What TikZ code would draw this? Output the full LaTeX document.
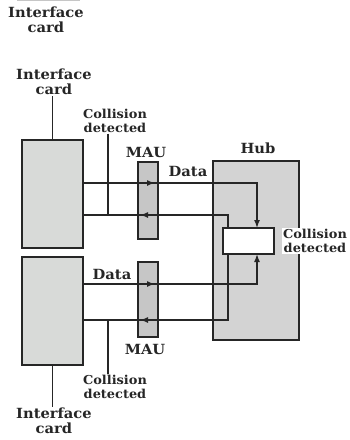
\documentclass[tikz,border=0pt]{standalone}
\usepackage{fontspec}
\setmainfont{DejaVu Serif}[FakeStretch=1.05]
\usetikzlibrary{arrows.meta}
\definecolor{ink}{HTML}{262626}
\definecolor{cardgray}{HTML}{D8DAD8}
\definecolor{maugray}{HTML}{C6C6C6}
\definecolor{hubgray}{HTML}{D3D3D3}
\tikzset{
  box/.style={draw=ink, line width=1.6pt, inner sep=0pt, outer sep=0pt, anchor=north west},
  big/.style={align=center, text=ink, inner sep=1pt, font=\bfseries\fontsize{14}{15.5}\selectfont},
  small/.style={align=center, text=ink, inner sep=1pt, font=\bfseries\fontsize{12.3}{13.5}\selectfont},
  wire/.style={draw=ink, line width=1.5pt},
  tip/.style={-{Latex[length=8pt,width=6pt]}},
}
\begin{document}
\begin{tikzpicture}[x=1pt,y=-1pt]
\useasboundingbox (0,0) rectangle (350,440);
% faint remnant at the top
\draw[gray!45, line width=0.7pt] (17,0.8) -- (80,0.8);
% boxes
\node[box, fill=cardgray, minimum width=61pt, minimum height=108pt] (card1) at (22,140) {};
\node[box, fill=cardgray, minimum width=61pt, minimum height=108pt] (card2) at (22,257) {};
\node[box, fill=maugray, minimum width=20pt, minimum height=77pt] (mau1) at (138,162) {};
\node[box, fill=maugray, minimum width=20pt, minimum height=75pt] (mau2) at (138,262) {};
\node[box, fill=hubgray, minimum width=86pt, minimum height=179pt] (hub) at (213,161) {};
\node[box, fill=white, minimum width=51pt, minimum height=26pt] (cbox) at (223,228) {};
% helper coordinates
\coordinate (xa) at (257,0);
\coordinate (xb) at (228,0);
\coordinate (xc) at (108,0);
\coordinate (ya) at (0,183);
\coordinate (yb) at (0,215);
\coordinate (yc) at (0,284);
\coordinate (yd) at (0,320);
% data lines
\draw[wire, tip] (card1.east |- ya) -| (cbox.north -| xa);
\draw[wire, tip] (card2.east |- yc) -| (cbox.south -| xa);
% collision lines
\draw[wire] (card1.east |- yb) -| (cbox.north -| xb);
\draw[wire] (cbox.south -| xb) |- (card2.east |- yd);
% arrows in MAUs
\draw[wire, tip, shorten >=3pt] (mau1.west |- ya) -- (mau1.east |- ya);
\draw[wire, tip, shorten >=2pt] (mau1.east |- yb) -- (mau1.west |- yb);
\draw[wire, tip, shorten >=3pt] (mau2.west |- yc) -- (mau2.east |- yc);
\draw[wire, tip, shorten >=2pt] (mau2.east |- yd) -- (mau2.west |- yd);
% labels
\node[big] (ic0) at (46,20) {Interface\\card};
\node[big] (ic1) at (54,82) {Interface\\card};
\node[big] (ic2) at (54,421) {Interface\\card};
\node[small] (col1) at (115,121) {Collision\\detected};
\node[small] (col2) at (115,387) {Collision\\detected};
\node[small, fill=white, inner sep=1pt] (col3) at (315,241) {Collision\\detected};
\node[big] (maul1) at (146,152) {MAU};
\node[big] (maul2) at (145,349) {MAU};
\node[big] (data1) at (188,171) {Data};
\node[big] (data2) at (112,274) {Data};
\node[big] (hubl) at (258,148) {Hub};
% leader lines
\draw[wire] (ic1.south -| card1.north) -- (card1.north);
\draw[wire] (card2.south) -- (ic2.north -| card2.south);
\draw[wire] (col1.south -| xc) -- (xc |- yb);
\draw[wire] (xc |- yd) -- (col2.north -| xc);
\end{tikzpicture}
\end{document}
